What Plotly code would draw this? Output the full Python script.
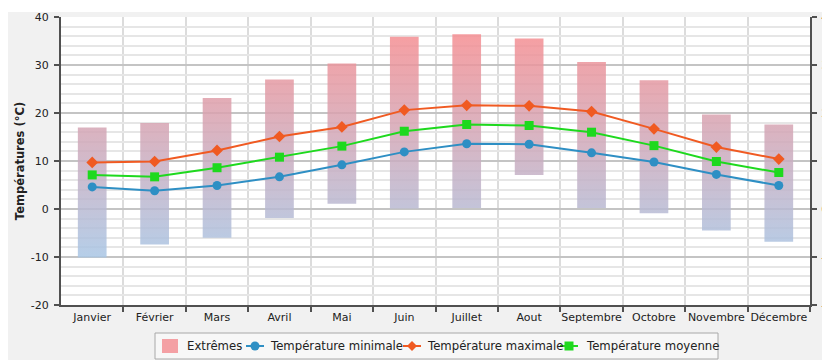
import plotly.graph_objects as go

months = ["Janvier", "Février", "Mars", "Avril", "Mai", "Juin", "Juillet",
          "Aout", "Septembre", "Octobre", "Novembre", "Décembre"]
ext_max = [17.0, 17.9, 23.1, 27.0, 30.3, 35.9, 36.4, 35.5, 30.6, 26.8, 19.7, 17.6]
ext_min = [-10.1, -7.4, -6.0, -1.9, 1.1, 0.1, 0.2, 7.1, 0.2, -0.9, -4.5, -6.8]
t_min = [4.6, 3.8, 4.9, 6.7, 9.2, 11.9, 13.6, 13.5, 11.7, 9.8, 7.2, 4.9]
t_max = [9.7, 9.9, 12.2, 15.1, 17.1, 20.6, 21.6, 21.5, 20.3, 16.7, 12.9, 10.4]
t_moy = [7.1, 6.7, 8.6, 10.8, 13.1, 16.2, 17.6, 17.4, 16.0, 13.2, 9.9, 7.6]
y_ticks = [-20, -10, 0, 10, 20, 30, 40]
y_ticktext = ["-20", "-10", "0", "10", "20", "30", "40"]

series_names = ["Extrêmes", "Température minimale",
                "Température maximale", "Température moyenne"]
c_min, c_max, c_moy = "#2e8fc4", "#f05a22", "#1ed91e"

idx = list(range(len(months)))
half = 0.23

# range bars built from the data
bx, by = [], []
for i, lo, hi in zip(idx, ext_min, ext_max):
    bx += [i - half, i + half, i + half, i - half, i - half, None]
    by += [lo, lo, hi, hi, lo, None]

font = "DejaVu Sans"
fig = go.Figure()
fig.add_trace(go.Scatter(
    x=bx, y=by, mode="lines", fill="toself", name=series_names[0],
    line=dict(width=0, color="rgba(0,0,0,0)"),
    fillcolor="rgba(240,150,155,0.85)",
    fillgradient=dict(type="vertical", start=-12, stop=36,
                      colorscale=[[0, "rgba(165,200,232,0.85)"],
                                  [1, "rgba(244,142,146,0.85)"]]),
    hoverinfo="skip"))
fig.add_trace(go.Scatter(
    x=idx, y=t_min, mode="lines+markers", name=series_names[1],
    line=dict(color=c_min, width=2),
    marker=dict(symbol="circle", size=9, color=c_min)))
fig.add_trace(go.Scatter(
    x=idx, y=t_max, mode="lines+markers", name=series_names[2],
    line=dict(color=c_max, width=2),
    marker=dict(symbol="diamond", size=9, color=c_max)))
fig.add_trace(go.Scatter(
    x=idx, y=t_moy, mode="lines+markers", name=series_names[3],
    line=dict(color=c_moy, width=2),
    marker=dict(symbol="square", size=9, color=c_moy)))
fig.add_trace(go.Scatter(x=[None], y=[None], yaxis="y2", showlegend=False,
                         hoverinfo="skip"))

# ---- layout geometry (page pixels; the page body adds an 8px offset) ----
PX0, PX1, PY0, PY1 = 61, 810, 17, 305      # plot area in page pixels
PW, PH = PX1 - PX0, PY1 - PY0


def px(x):
    return (x - PX0) / PW


def py(y):
    return (PY1 - y) / PH


shapes = [dict(type="rect", xref="paper", yref="paper", x0=-0.2, x1=1.2,
               y0=py(12), y1=py(-5), fillcolor="#ffffff",
               line=dict(width=0), layer="below")]
annotations = []

# ---- legend box (drawn as layout decorations) ----
LY = 346
shapes.append(dict(type="rect", xref="paper", yref="paper",
                   x0=px(155), x1=px(718), y0=py(359), y1=py(333),
                   fillcolor="#f7f7f7", line=dict(color="#a8a8a8", width=1)))
shapes.append(dict(type="rect", xref="paper", yref="paper",
                   x0=px(162), x1=px(178), y0=py(353), y1=py(339),
                   fillcolor="#f4a0a4", line=dict(width=0)))
for (lx, col, sym) in [(255, c_min, "circle"), (412, c_max, "diamond"),
                       (569, c_moy, "square")]:
    shapes.append(dict(type="line", xref="paper", yref="paper",
                       x0=px(lx - 9), x1=px(lx + 9), y0=py(LY), y1=py(LY),
                       line=dict(color=col, width=2)))
    r = 4.5
    if sym == "circle":
        shapes.append(dict(type="circle", xref="paper", yref="paper",
                           x0=px(lx - r), x1=px(lx + r), y0=py(LY + r),
                           y1=py(LY - r), fillcolor=col, line=dict(width=0)))
    elif sym == "square":
        shapes.append(dict(type="rect", xref="paper", yref="paper",
                           x0=px(lx - r), x1=px(lx + r), y0=py(LY + r),
                           y1=py(LY - r), fillcolor=col, line=dict(width=0)))
    else:
        d = 5
        path = (f"M {px(lx - d)},{py(LY)} L {px(lx)},{py(LY - d)} "
                f"L {px(lx + d)},{py(LY)} L {px(lx)},{py(LY + d)} Z")
        shapes.append(dict(type="path", xref="paper", yref="paper",
                           path=path, fillcolor=col, line=dict(width=0)))

for name, tx in zip(series_names, [185, 268, 425, 584]):
    annotations.append(dict(text=name, xref="paper", yref="paper",
                            x=px(tx), y=py(LY), xanchor="left",
                            yanchor="middle", showarrow=False,
                            font=dict(family=font, size=11.7, color="#222")))

axis_col = "#505050"
fig.update_layout(
    template="none",
    width=830, height=360,
    # page body has an 8px margin, so shift the figure geometry by 8px
    margin=dict(l=PX0 - 8, r=830 - (PX1 - 8), t=PY0 - 8, b=360 - (PY1 - 8)),
    paper_bgcolor="#f1f1f1",
    plot_bgcolor="#ffffff",
    font=dict(family=font, size=11, color="#222"),
    showlegend=False,
    xaxis=dict(range=[-0.5, 11.5], tickmode="array", tickvals=idx,
               ticktext=months, ticks="", showgrid=False, zeroline=False,
               showline=True, linecolor=axis_col, linewidth=2,
               automargin=False, tickfont=dict(size=11),
               ticklabelstandoff=1,
               minor=dict(tickmode="array",
                          tickvals=[i + 0.5 for i in idx],
                          ticks="outside", ticklen=5, tickwidth=1.5,
                          tickcolor=axis_col, showgrid=True,
                          gridcolor="#dcdcdc", gridwidth=2)),
    yaxis=dict(range=[-20, 40], tickmode="array", tickvals=y_ticks,
               ticktext=y_ticktext, showgrid=True,
               gridcolor="#c4c4c4", gridwidth=2, zeroline=False,
               showline=True, linecolor=axis_col, linewidth=2,
               ticks="outside", ticklen=5, tickwidth=1.5, tickcolor=axis_col,
               automargin=False, tickfont=dict(size=11),
               ticklabelstandoff=3,
               minor=dict(dtick=2, tick0=0, showgrid=True,
                          gridcolor="#e6e6e6", gridwidth=1.5),
               title=dict(text="<b>Températures (°C)</b>", standoff=4,
                          font=dict(size=11.5))),
    yaxis2=dict(range=[-20, 40], tickmode="array", tickvals=y_ticks,
                ticktext=y_ticktext, overlaying="y", side="right",
                showgrid=False, zeroline=False, showline=True,
                linecolor=axis_col, linewidth=2, ticks="outside", ticklen=5,
                tickwidth=1.5, tickcolor=axis_col, automargin=False,
                tickfont=dict(size=11), ticklabelstandoff=2),
    shapes=shapes,
    annotations=annotations,
)

fig.write_html("out.html")
